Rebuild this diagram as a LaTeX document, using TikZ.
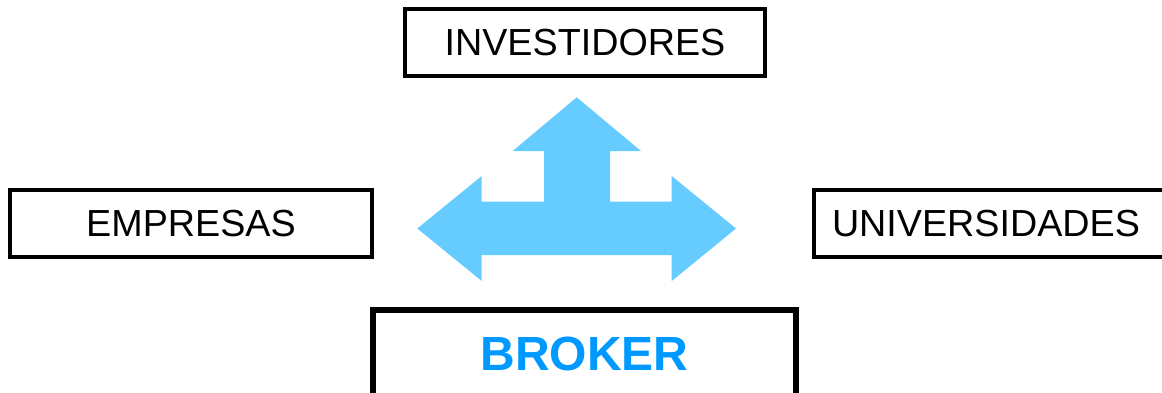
\documentclass[tikz,border=0pt]{standalone}
\usepackage{fontspec}
\setmainfont{Liberation Sans}
\definecolor{arrowblue}{HTML}{66CCFF}
\definecolor{brokerblue}{HTML}{0099FF}
\begin{document}
\begin{tikzpicture}[x=1pt,y=-1pt,
  box/.style={draw=black, line width=4pt, inner sep=0pt, text height=46.5pt, text depth=20.5pt, font=\fontsize{37.7}{40}\selectfont, anchor=base},
  brokerbox/.style={draw=black, line width=6pt, inner sep=0pt, text height=60pt, text depth=30pt, font=\fontsize{48}{52}\selectfont\bfseries, text=brokerblue, anchor=base},
  bigarrow/.style={fill=arrowblue, draw=none}]
\useasboundingbox (0,0) rectangle (1162,392);
\clip (0,0) rectangle (1162,392);
\node[box, minimum width=360pt] (inv) at (585,55.5) {INVESTIDORES};
\node[box, minimum width=362pt] (emp) at (191,236.5) {EMPRESAS};
\node[box, anchor=base west, text width=400pt, align=left, inner xsep=18pt] (uni) at (812,236.5) {UNIVERSIDADES};
\node[brokerbox, minimum width=423pt] (bro) at (584.5,370) {BROKER};
\fill[bigarrow] (576.7,97.3) -- (641,151) -- (610,151) -- (610,201.7) -- (671.7,201.7) -- (671.7,176) -- (736,228.5) -- (671.7,281) -- (671.7,255) -- (481.7,255) -- (481.7,281) -- (417.3,228.5) -- (481.7,176) -- (481.7,201.7) -- (544,201.7) -- (544,151) -- (512.7,151) -- cycle;
\end{tikzpicture}
\end{document}
